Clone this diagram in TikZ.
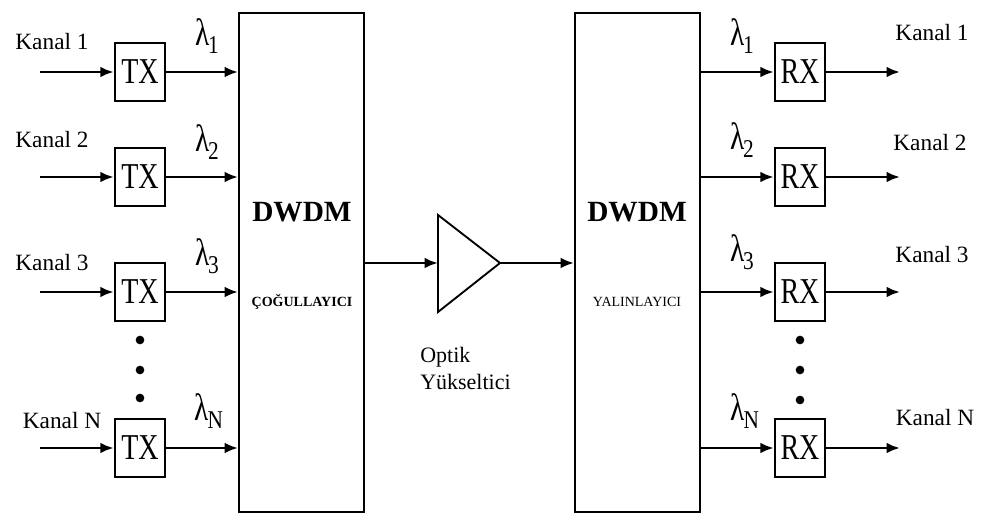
\documentclass[tikz,border=0pt]{standalone}
\usepackage{fontspec}
\setmainfont{Liberation Serif}
\usepackage{graphicx}
\usepackage{tikz}
\usetikzlibrary{arrows.meta,positioning}

% wavelength label: lambda with a large lowered index
\newcommand{\wlen}[1]{\scalebox{1}[1.3]{λ}\kern-1pt\raisebox{-0.6ex}{\scalebox{1}[1.2]{\fontsize{16}{16}\selectfont #1}}}
\newcommand{\tallx}[1]{\scalebox{1}[1.3]{#1}}

\begin{document}
\begin{tikzpicture}[
  x=0.75pt,y=-0.75pt,
  unit/.style={rectangle,draw,line width=1.4pt,minimum width=38pt,minimum height=43.5pt,
               inner sep=0pt,font=\fontsize{21}{21}\selectfont},
  block/.style={rectangle,draw,line width=1.4pt,minimum width=93.75pt,minimum height=374pt,inner sep=0pt},
  chan/.style={font=\fontsize{17.5}{17.5}\selectfont,inner sep=0pt},
  wave/.style={font=\fontsize{22}{22}\selectfont,inner sep=0pt},
  arrow/.style={-{Latex[length=10pt,width=8pt]},line width=2pt},
  dot/.style={circle,fill,inner sep=0pt,minimum size=6.5pt}
]
  \useasboundingbox (0,0) rectangle (989,520);

  % multiplexer and demultiplexer
  \node[block] (mux) at (301.5,262.5) {};
  \node[block] (demux) at (637.5,262.5) {};
  \node[font=\fontsize{22}{22}\selectfont\bfseries] (muxname) at (302,212) {DWDM};
  \node[font=\fontsize{10.5}{10.5}\selectfont\bfseries] (muxsub) at (302,302) {ÇOĞULLAYICI};
  \node[font=\fontsize{22}{22}\selectfont\bfseries] (demuxname) at (637,212) {DWDM};
  \node[font=\fontsize{10.5}{10.5}\selectfont] (demuxsub) at (637,302) {YALINLAYICI};

  % transmitters
  \foreach \i/\y in {1/72,2/177,3/292,n/448} {
    \node[unit] (tx\i) at (140,\y) {\tallx{TX}};
    \coordinate (in\i) at (40,\y);
    \draw[arrow] (in\i) -- (tx\i);
    \draw[arrow] (tx\i) -- (tx\i -| mux.west);
  }
  \node[chan] (kin1) at (52,42) {Kanal 1};
  \node[chan] (kin2) at (52,140) {Kanal 2};
  \node[chan] (kin3) at (52,263) {Kanal 3};
  \node[chan] (kinn) at (62,421) {Kanal N};
  \node[wave] (lin1) at (207,36) {\wlen{1}};
  \node[wave] (lin2) at (207,142) {\wlen{2}};
  \node[wave] (lin3) at (207,256) {\wlen{3}};
  \node[wave] (linn) at (209,411) {\wlen{N}};
  \node[dot] (tdot1) at (140,340) {};
  \node[dot] (tdot2) at (140,370) {};
  \node[dot] (tdot3) at (140,398) {};

  % receivers
  \foreach \i/\y in {1/72,2/177,3/292,n/448} {
    \node[unit] (rx\i) at (800,\y) {\tallx{RX}};
    \coordinate (out\i) at (900,\y);
    \draw[arrow] (rx\i -| demux.east) -- (rx\i);
    \draw[arrow] (rx\i) -- (out\i);
  }
  \node[chan] (kout1) at (932,33) {Kanal 1};
  \node[chan] (kout2) at (930,143) {Kanal 2};
  \node[chan] (kout3) at (932,255) {Kanal 3};
  \node[chan] (koutn) at (935,418) {Kanal N};
  \node[wave] (lout1) at (742,36) {\wlen{1}};
  \node[wave] (lout2) at (742,140) {\wlen{2}};
  \node[wave] (lout3) at (742,252) {\wlen{3}};
  \node[wave] (loutn) at (745,411) {\wlen{N}};
  \node[dot] (rdot1) at (800,340) {};
  \node[dot] (rdot2) at (800,370) {};
  \node[dot] (rdot3) at (800,400) {};

  % optical amplifier
  \draw[line width=1.4pt,line join=miter] (438,215) -- (500,263) -- (438,312) -- cycle;
  \coordinate (ampin) at (438,263);
  \coordinate (ampout) at (500,263);
  \draw[arrow] (mux.east |- ampin) -- (ampin);
  \draw[arrow] (ampout) -- (ampout -| demux.west);
  \node[font=\fontsize{16.5}{20}\selectfont,align=left,anchor=north west,inner sep=0pt] (amplabel)
    at (420,347) {Optik\\Yükseltici};
\end{tikzpicture}
\end{document}
